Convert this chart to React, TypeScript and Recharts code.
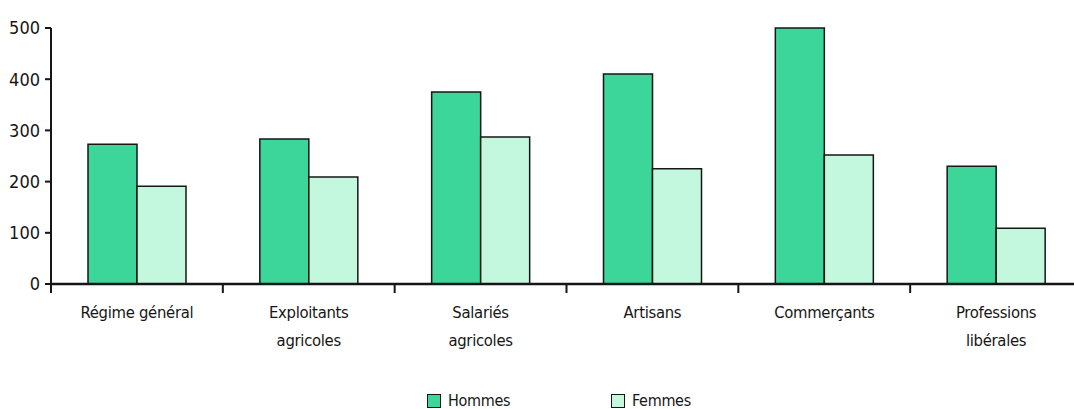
import { BarChart, Bar, XAxis, YAxis, Legend } from 'recharts';

// values
const categories = [
  'Régime général',
  'Exploitants\nagricoles',
  'Salariés\nagricoles',
  'Artisans',
  'Commerçants',
  'Professions\nlibérales',
];
const hommes = [273, 283, 375, 410, 500, 230];
const femmes = [191, 209, 287, 225, 252, 109];
const yTicks = [0, 100, 200, 300, 400, 500];

const data = categories.map((name, i) => ({ name, hommes: hommes[i], femmes: femmes[i] }));

const FONT = '"Liberation Sans Narrow", "DejaVu Sans Condensed", "Roboto Condensed", sans-serif';
const CHART_W = 1082;
const CHART_H = 409;
const Y_W = 51;
const HALF_BAND = (CHART_W - Y_W) / categories.length / 2;
const INK = '#161616';
const GREEN = '#3cd69a';
const LIGHT = '#c3f8de';

function CategoryTick({ x, y, payload }: any) {
  const lines = String(payload.value).split('\n');
  return (
    <g>
      <line x1={x - HALF_BAND} x2={x - HALF_BAND} y1={y} y2={y + 9} stroke={INK} strokeWidth={2} />
      <text x={x} y={y + 34} textAnchor="middle" fontSize={16.5} fill={INK} fontFamily={FONT} letterSpacing={-0.3}>
        {lines.map((l, i) => (
          <tspan key={i} x={x} dy={i === 0 ? 0 : 28}>
            {l}
          </tspan>
        ))}
      </text>
    </g>
  );
}

function Swatch({ left, color, label }: { left: number; color: string; label: string }) {
  return (
    <div style={{ position: 'absolute', left, top: 3, display: 'flex', alignItems: 'center' }}>
      <span
        style={{
          display: 'inline-block',
          width: 12,
          height: 12,
          background: color,
          border: `1.5px solid ${INK}`,
          marginRight: 7,
        }}
      />
      <span style={{ lineHeight: '15px', letterSpacing: -0.3 }}>{label}</span>
    </div>
  );
}

function LegendBox() {
  return (
    <div style={{ position: 'relative', height: 19, fontFamily: FONT, fontSize: 16, color: INK }}>
      <Swatch left={427} color={GREEN} label="Hommes" />
      <Swatch left={611} color={LIGHT} label="Femmes" />
    </div>
  );
}

export default function App() {
  return (
    <div style={{ position: 'absolute', left: 0, top: 0, width: 1074, height: 409, overflow: 'hidden', background: '#fff' }}>
      <BarChart
        width={CHART_W}
        height={CHART_H}
        data={data}
        margin={{ top: 28, right: 0, left: 0, bottom: 0 }}
        barGap={0}
        barSize={49}
      >
        <XAxis
          dataKey="name"
          interval={0}
          height={106}
          tickLine={false}
          tickSize={0}
          tickMargin={0}
          tick={<CategoryTick />}
          axisLine={{ stroke: INK, strokeWidth: 2.5 }}
        />
        <YAxis
          width={Y_W}
          domain={[0, 500]}
          ticks={yTicks}
          tickSize={6}
          tickMargin={5}
          tick={{ fontSize: 18, fill: INK, fontFamily: FONT }}
          tickLine={{ stroke: INK, strokeWidth: 2 }}
          axisLine={{ stroke: INK, strokeWidth: 2 }}
        />
        <Legend verticalAlign="bottom" height={19} content={<LegendBox />} />
        <Bar dataKey="hommes" name="Hommes" fill={GREEN} stroke={INK} strokeWidth={1.5} isAnimationActive={false} />
        <Bar dataKey="femmes" name="Femmes" fill={LIGHT} stroke={INK} strokeWidth={1.5} isAnimationActive={false} />
      </BarChart>
    </div>
  );
}
